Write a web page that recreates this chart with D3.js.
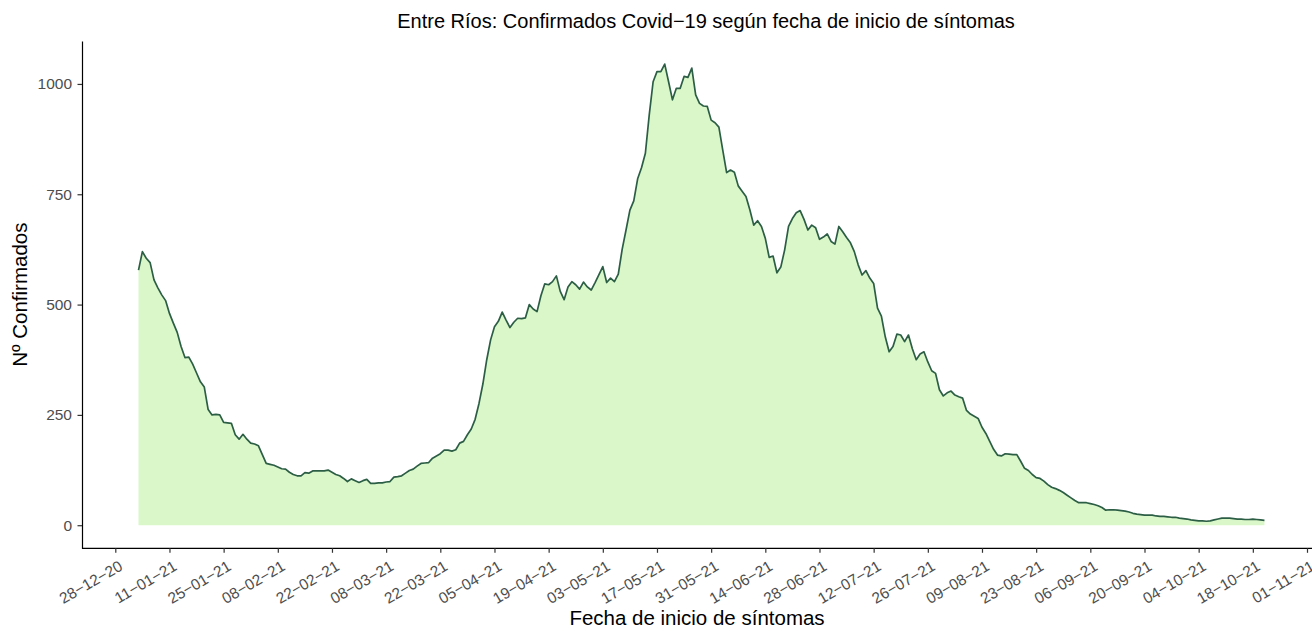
<!DOCTYPE html>
<meta charset="utf-8">
<style>
body { margin: 0; background: #fff; }
text { font-family: "Liberation Sans", Arial, sans-serif; }
</style>
<body>
<script src="https://cdnjs.cloudflare.com/ajax/libs/d3/7.8.5/d3.min.js"></script>
<script>
// daily confirmed cases, first day 2021-01-03
var startDay = Date.UTC(2021, 0, 3);
var cases = [
  578, 620, 605, 595, 556, 538, 522, 509, 480, 458,
  437, 405, 380, 381, 365, 345, 325, 313, 262, 250,
  251, 250, 233, 232, 231, 205, 195, 206, 195, 186,
  184, 180, 160, 140, 138, 136, 132, 128, 127, 120,
  115, 112, 112, 119, 118, 123, 123, 123, 123, 125,
  120, 115, 112, 106, 99, 105, 101, 97, 101, 104,
  95, 95, 96, 96, 98, 99, 109, 110, 112, 118,
  124, 127, 134, 140, 141, 142, 152, 157, 162, 170,
  170, 168, 171, 186, 190, 205, 218, 240, 276, 320,
  375, 420, 450, 462, 483, 465, 448, 460, 469, 468,
  470, 500, 490, 484, 520, 547, 545, 552, 565, 530,
  511, 540, 552, 545, 535, 551, 540, 533, 550, 568,
  586, 550, 560, 552, 569, 625, 669, 714, 735, 785,
  810, 843, 930, 1005, 1028, 1028, 1045, 1005, 964, 990,
  990, 1017, 1015, 1036, 975, 956, 950, 949, 918, 912,
  902, 850, 799, 805, 800, 769, 757, 745, 715, 680,
  690, 677, 650, 607, 610, 572, 585, 624, 677, 695,
  708, 713, 693, 669, 680, 674, 648, 653, 660, 643,
  637, 677, 665, 652, 640, 620, 590, 567, 577, 560,
  548, 492, 474, 427, 393, 405, 433, 431, 416, 431,
  400, 375, 388, 393, 370, 350, 344, 307, 293, 300,
  304, 295, 291, 288, 260, 252, 247, 242, 222, 208,
  190, 172, 159, 157, 162, 161, 160, 160, 145, 129,
  124, 115, 108, 106, 100, 92, 86, 83, 79, 74,
  68, 62, 56, 51, 51, 51, 49, 47, 44, 40,
  34, 35, 35, 34, 33, 32, 30, 27, 25, 24,
  23, 23, 23, 21, 20, 20, 19, 18, 18, 16,
  15, 14, 12, 11, 10, 10, 9, 10, 12, 14,
  16, 16, 16, 15, 14, 14, 13, 13, 14, 13,
  12, 11
];
var yTicks = [0, 250, 500, 750, 1000];

var title = "Entre Ríos: Confirmados Covid\u221219 según fecha de inicio de síntomas";
var xTitle = "Fecha de inicio de síntomas";
var yTitle = "Nº Confirmados";

var data = cases.map(function(v, i) {
	return { date: new Date(startDay + i * 864e5), value: v };
});

var w = 1312, h = 631;
var padLeft = 82, padTop = 41, axisY = 548.3;

var svg = d3.select("body").append("svg")
	.attr("width", w)
	.attr("height", h);

var x = d3.scaleUtc()
	.domain([new Date(Date.UTC(2020, 11, 28)), new Date(Date.UTC(2021, 10, 1))])
	.range([115.3, 1307]);

var y = d3.scaleLinear()
	.domain([-52.3, 1097.3])
	.range([axisY, padTop]);

var area = d3.area()
	.x(function(d) { return x(d.date); })
	.y0(y(0))
	.y1(function(d) { return y(d.value); });

var line = d3.line()
	.x(function(d) { return x(d.date); })
	.y(function(d) { return y(d.value); });

svg.append("path")
	.datum(data)
	.attr("d", area)
	.attr("fill", "#d9f7c8");

svg.append("path")
	.datum(data)
	.attr("d", line)
	.attr("fill", "none")
	.attr("stroke", "#2c5e45")
	.attr("stroke-width", 1.7)
	.attr("stroke-linejoin", "round");

// x axis, a tick every 14 days
var xTickDates = d3.utcDay.range(new Date(Date.UTC(2020, 11, 28)), new Date(Date.UTC(2021, 10, 2)), 14);
var fmt = d3.utcFormat("%d\u2212%m\u2212%y");

var xAxis = svg.append("g")
	.attr("transform", "translate(0," + axisY + ")")
	.call(d3.axisBottom(x).tickValues(xTickDates).tickFormat(fmt).tickSize(4.5).tickSizeOuter(0));
xAxis.select(".domain").attr("d", "M" + padLeft + ",0H" + w).attr("stroke", "#000").attr("stroke-width", 1.2);
xAxis.selectAll(".tick line").attr("stroke", "#333").attr("stroke-width", 1.2);
xAxis.selectAll(".tick text")
	.attr("fill", "#4d4d4d")
	.style("font-size", "15.5px")
	.attr("text-anchor", "end")
	.attr("dy", null)
	.attr("y", 0)
	.attr("transform", "translate(8,21) rotate(-30)");

// y axis
var yAxis = svg.append("g")
	.attr("transform", "translate(" + padLeft + ",0)")
	.call(d3.axisLeft(y).tickValues(yTicks).tickFormat(d3.format("d")).tickSize(4.5).tickSizeOuter(0));
yAxis.select(".domain").attr("stroke", "#000").attr("stroke-width", 1.2);
yAxis.selectAll(".tick line").attr("stroke", "#333").attr("stroke-width", 1.2);
yAxis.selectAll(".tick text")
	.attr("fill", "#4d4d4d")
	.style("font-size", "15.5px")
	.attr("x", -10);

svg.append("text")
	.attr("x", 706)
	.attr("y", 28)
	.attr("text-anchor", "middle")
	.style("font-size", "20px")
	.text(title);

svg.append("text")
	.attr("x", 697)
	.attr("y", 625)
	.attr("text-anchor", "middle")
	.style("font-size", "20.5px")
	.text(xTitle);

svg.append("text")
	.attr("transform", "translate(27," + (padTop + axisY) / 2 + ") rotate(-90)")
	.attr("text-anchor", "middle")
	.style("font-size", "20.5px")
	.text(yTitle);
</script>
</body>
